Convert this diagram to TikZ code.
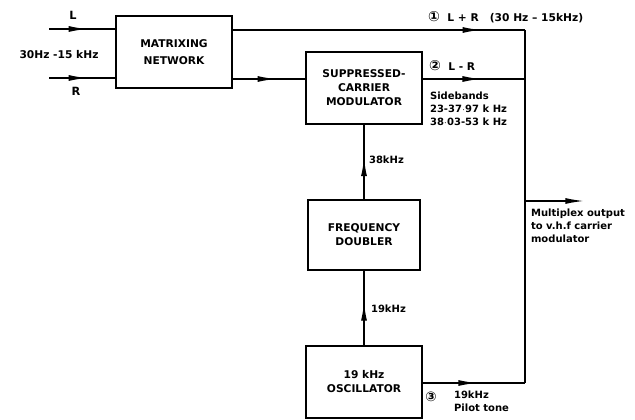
\documentclass[tikz,border=0pt]{standalone}
\usepackage{fontspec}
\setmainfont{DejaVu Sans}
\usetikzlibrary{positioning,arrows.meta,decorations.markings}

\begin{document}
\begin{tikzpicture}[x=0.75pt, y=-0.75pt, >={Latex[length=14pt,width=4.5pt]},
  line width=1.1pt,
  block/.style={draw, line width=1.4pt, minimum width=87pt, minimum height=54pt, align=center, font=\fontsize{8}{10.5}\selectfont\bfseries},
  lbl/.style={inner sep=1pt, align=left, font=\fontsize{7.5}{9.75}\selectfont\bfseries},
  num/.style={inner sep=0pt, font=\fontsize{10}{10}\selectfont\bfseries},
  midarrow/.style={decoration={markings, mark=at position #1 with {\arrow{>}}}, postaction={decorate}}]
  \useasboundingbox (0,0) rectangle (635,420);

  % blocks
  \node[block, font=\fontsize{8}{13}\selectfont\bfseries] (mat) at (174,52) {MATRIXING\\NETWORK};
  \node[block] (mod) at (364,88) {SUPPRESSED-\\CARRIER\\MODULATOR};
  \node[block, minimum width=84pt, minimum height=52.5pt] (dbl) at (364,235) {FREQUENCY\\DOUBLER};
  \node[block] (osc) at (364,382) {19 kHz\\OSCILLATOR};

  % corner points of the output bus
  \coordinate (lin) at (49,29);
  \coordinate (rin) at (49,78);
  \coordinate (tr) at (525,30);
  \coordinate (lr) at (525,79);
  \coordinate (mx) at (525,201);
  \coordinate (br) at (525,383);
  \coordinate (mxout) at (584,201);

  % inputs
  \draw[midarrow=0.58] (lin) -- (lin -| mat.west);
  \draw[midarrow=0.58] (rin) -- (rin -| mat.west);
  \node[lbl, font=\fontsize{8.5}{10}\selectfont\bfseries] (l) at (73,15) {L};
  \node[lbl, font=\fontsize{8.5}{10}\selectfont\bfseries] (r) at (76,91) {R};
  \node[lbl, font=\fontsize{8}{10}\selectfont\bfseries] (band) at (59,55) {30Hz -15 kHz};

  % matrix outputs
  \draw[midarrow=0.85] (mat.east |- tr) -- (tr);
  \draw (tr) -- (br);
  \draw[midarrow=0.6] (mat.east |- lr) -- (mod.west |- lr);
  \draw[midarrow=0.57] (mod.east |- lr) -- (lr);
  \node[lbl, anchor=west, font=\fontsize{8}{10}\selectfont\bfseries] (sum) at (426,17) {{\fontsize{10.5}{10}\selectfont ①} \ L + R \ \ (30 Hz -- 15kHz)};
  \node[lbl, anchor=west, font=\fontsize{8}{10}\selectfont\bfseries] (dif) at (427,66) {{\fontsize{10.5}{10}\selectfont ②} \ L - R};
  \node[lbl, anchor=north west] (side) at (428,90) {Sidebands\\23-37$\cdot$97 k Hz\\38$\cdot$03-53 k Hz};

  % carrier chain
  \draw[midarrow=0.56] (dbl.north) -- (mod.south);
  \node[lbl, anchor=west] (f38) at (367,160) {38kHz};
  \draw[midarrow=0.58] (osc.north) -- (dbl.south);
  \node[lbl, anchor=west] (f19) at (369,309) {19kHz};

  % pilot and output
  \draw[midarrow=0.53] (osc.east |- br) -- (br);
  \node[num] (n3) at (431,397) {③};
  \node[lbl, anchor=north west] (pilot) at (452,389) {19kHz\\Pilot tone};
  \draw[->] (mx) -- (mxout);
  \node[lbl, anchor=north west] (mux) at (529,207) {Multiplex output\\to v.h.f carrier\\modulator};
\end{tikzpicture}
\end{document}
